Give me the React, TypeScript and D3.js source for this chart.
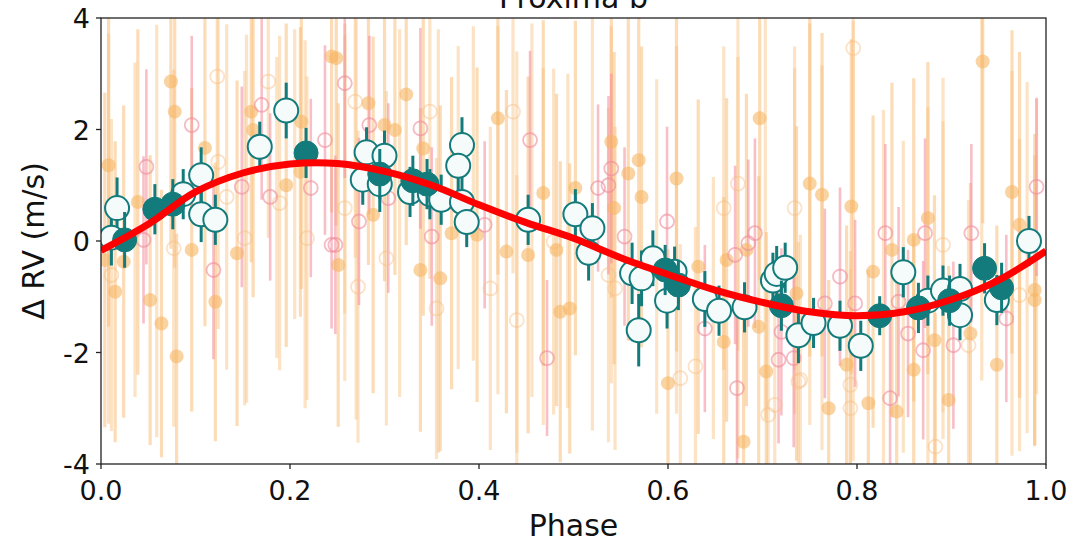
import React from 'react';
import * as d3 from 'd3';

const W = 1078;
const H = 543;

const titleText = 'Proxima b';
const xLabel = 'Phase';
const yLabel = 'Δ RV (m/s)';
const xTicks = [0, 0.2, 0.4, 0.6, 0.8, 1.0];
const yTicks = [-4, -2, 0, 2, 4];

// model curve (phase, rv)
const modelCurve: [number, number][] = [
  [0.0, -0.17], [0.05, 0.3], [0.1, 0.88], [0.15, 1.22], [0.2, 1.38], [0.25, 1.39],
  [0.3, 1.25], [0.35, 1.0], [0.4, 0.65], [0.45, 0.33], [0.5, 0.05], [0.55, -0.3],
  [0.6, -0.6], [0.65, -0.88], [0.7, -1.1], [0.75, -1.27], [0.8, -1.34], [0.85, -1.27],
  [0.9, -1.05], [0.95, -0.7], [1.0, -0.18],
];

// binned points, white fill (phase, rv, err)
const whitePts: [number, number, number][] = [
  [0.017, 0.59, 0.55], [0.011, 0.06, 0.5], [0.087, 0.84, 0.45], [0.106, 1.18, 0.5], [0.106, 0.48, 0.5],
  [0.121, 0.38, 0.45], [0.168, 1.69, 0.45], [0.196, 2.34, 0.5], [0.281, 1.59, 0.45], [0.3, 1.53, 0.45],
  [0.277, 1.1, 0.45], [0.295, 1.02, 0.5], [0.327, 0.88, 0.45], [0.348, 0.84, 0.45], [0.36, 0.74, 0.45],
  [0.382, 1.72, 0.5], [0.378, 1.35, 0.45], [0.382, 0.7, 0.45], [0.387, 0.34, 0.45], [0.452, 0.38, 0.45],
  [0.502, 0.48, 0.45], [0.52, 0.23, 0.45], [0.516, -0.21, 0.5], [0.562, -0.58, 0.55], [0.572, -0.67, 0.5],
  [0.584, -0.31, 0.5], [0.607, -0.55, 0.45], [0.599, -1.07, 0.5], [0.569, -1.6, 0.65], [0.639, -1.04, 0.5],
  [0.654, -1.25, 0.45], [0.681, -1.19, 0.45], [0.711, -0.71, 0.5], [0.715, -0.59, 0.5], [0.724, -0.48, 0.45],
  [0.738, -1.69, 0.5], [0.754, -1.47, 0.45], [0.782, -1.52, 0.45], [0.804, -1.88, 0.45], [0.849, -0.56, 0.45],
  [0.875, -1.07, 0.45], [0.891, -0.89, 0.45], [0.909, -0.86, 0.45], [0.909, -1.33, 0.45], [0.948, -1.06, 0.45],
  [0.982, 0.0, 0.45],
];

// binned points, teal fill (phase, rv, err)
const tealPts: [number, number, number][] = [
  [0.025, 0.02, 0.5], [0.057, 0.57, 0.45], [0.076, 0.66, 0.45], [0.217, 1.58, 0.45], [0.295, 1.2, 0.45],
  [0.33, 1.08, 0.45], [0.345, 1.02, 0.45], [0.597, -0.52, 0.45], [0.611, -0.79, 0.45], [0.72, -1.16, 0.45],
  [0.824, -1.34, 0.35], [0.865, -1.2, 0.45], [0.898, -1.07, 0.45], [0.935, -0.49, 0.45], [0.953, -0.84, 0.45],
];

// raw points, orange filled (phase, rv, err)
const orangeFilled: [number, number, number][] = [
  [0.074, 2.86, 3.0], [0.078, 2.32, 2.8], [0.008, 1.36, 2.9], [0.039, 0.7, 3.1], [0.11, 1.67, 3.2],
  [0.159, 2.32, 2.7], [0.161, 1.99, 3.0], [0.196, 1.0, 2.9], [0.211, 1.24, 2.6], [0.212, 2.14, 3.0],
  [0.004, -0.34, 3.0], [0.024, -0.37, 2.8], [0.015, -0.91, 2.7], [0.052, -1.06, 2.6], [0.064, -1.48, 2.4],
  [0.08, -2.07, 2.2], [0.096, -0.16, 2.9], [0.144, -0.22, 3.1], [0.121, -1.09, 2.5], [0.244, 3.31, 2.8],
  [0.249, 3.28, 3.0], [0.283, 2.47, 2.9], [0.323, 2.63, 2.7], [0.3, 2.08, 2.8], [0.311, 1.99, 2.6],
  [0.341, 1.66, 3.0], [0.42, 2.2, 2.8], [0.468, 0.86, 3.1], [0.251, -0.43, 2.9], [0.288, 0.47, 3.2],
  [0.338, -0.52, 2.9], [0.359, -0.67, 3.1], [0.371, 0.14, 2.8], [0.398, 0.11, 3.0], [0.429, -0.19, 2.9],
  [0.452, -0.25, 3.2], [0.482, -0.16, 2.8], [0.486, -1.27, 2.7], [0.697, 2.2, 2.9], [0.54, 1.78, 2.8],
  [0.569, 1.45, 2.9], [0.558, 1.21, 3.0], [0.572, 0.79, 2.7], [0.609, 1.12, 3.1], [0.543, 0.59, 2.8],
  [0.496, -1.21, 2.6], [0.632, -0.46, 3.0], [0.662, -0.34, 2.9], [0.696, -1.54, 2.7], [0.659, -1.81, 2.6],
  [0.704, -2.34, 2.5], [0.6, -2.55, 2.4], [0.68, -3.6, 2.6], [0.736, -0.94, 3.0], [0.502, 0.95, 3.0],
  [0.683, -0.16, 2.8], [0.933, 3.22, 2.9], [0.75, 1.03, 3.1], [0.763, 0.83, 2.9], [0.794, 0.62, 3.0],
  [0.875, 0.41, 2.8], [0.837, -0.16, 3.0], [0.86, 0.02, 2.9], [0.817, -0.55, 2.8], [0.964, 0.88, 2.9],
  [0.972, 0.29, 3.1], [0.988, -0.88, 2.8], [0.988, -1.06, 2.6], [0.789, -2.22, 2.5], [0.86, -2.31, 2.4],
  [0.882, -1.78, 2.6], [0.948, -2.22, 2.5], [0.77, -3.0, 2.3], [0.812, -2.91, 2.4], [0.842, -3.06, 2.5],
  [0.897, -2.85, 2.4], [0.92, -1.66, 2.7],
];

// raw points, pink open circles (phase, rv, err)
const pinkOpen: [number, number, number][] = [
  [0.048, 1.33, 1.75], [0.096, 2.08, 1.6], [0.045, 0.02, 1.5], [0.119, -0.52, 1.6], [0.149, 0.97, 1.8],
  [0.17, 2.44, 1.7], [0.179, 0.79, 1.5], [0.222, 0.95, 1.6], [0.237, 1.81, 1.7], [0.244, -0.07, 1.5],
  [0.258, 2.83, 1.7], [0.284, 2.08, 1.6], [0.338, 2.02, 1.8], [0.248, -0.07, 1.6], [0.273, 0.35, 1.5],
  [0.304, 0.77, 1.7], [0.35, 0.08, 1.6], [0.406, 0.29, 1.5], [0.472, -2.1, 1.4], [0.454, 1.81, 1.6],
  [0.54, 1.3, 1.7], [0.537, 1.0, 1.6], [0.526, 0.95, 1.5], [0.554, 0.08, 1.6], [0.599, 0.35, 1.7],
  [0.639, -1.57, 1.5], [0.673, -2.64, 1.4], [0.671, -0.25, 1.6], [0.685, -0.04, 1.5], [0.692, 0.14, 1.7],
  [0.717, -2.13, 1.5], [0.733, -2.1, 1.6], [0.72, -1.63, 1.5], [0.782, -0.64, 1.6], [0.766, -1.12, 1.7],
  [0.798, -1.12, 1.5], [0.83, 0.14, 1.6], [0.844, -1.09, 1.7], [0.854, -1.66, 1.5], [0.87, -1.96, 1.6],
  [0.902, -1.87, 1.5], [0.921, 0.14, 1.6], [0.958, -1.39, 1.5], [0.99, 0.97, 1.6], [0.835, -2.82, 1.5],
  [0.872, 0.14, 1.7],
];

// raw points, faint orange open circles (phase, rv, err)
const orangeOpen: [number, number, number][] = [
  [0.123, 2.95, 2.8], [0.124, 1.42, 3.0], [0.077, -0.13, 3.2], [0.218, 0.05, 2.9], [0.177, 2.86, 2.8],
  [0.189, 0.68, 3.0], [0.011, -0.61, 2.8], [0.133, 0.79, 3.1], [0.152, 0.05, 3.0], [0.269, 2.5, 2.8],
  [0.348, 2.32, 3.0], [0.436, 2.32, 2.9], [0.258, 0.59, 3.1], [0.302, -0.31, 3.0], [0.272, -0.82, 2.8],
  [0.355, -1.21, 2.7], [0.412, -0.85, 2.9], [0.44, -1.42, 2.6], [0.479, -0.01, 3.1], [0.659, 0.59, 2.9],
  [0.674, 1.03, 3.0], [0.734, 0.59, 2.9], [0.629, -2.25, 2.5], [0.613, -2.46, 2.4], [0.706, -3.12, 2.5],
  [0.713, -2.94, 2.6], [0.544, -0.85, 2.9], [0.537, -0.61, 3.0], [0.738, -2.52, 2.5], [0.796, 3.46, 2.9],
  [0.793, -2.58, 2.4], [0.793, -3.0, 2.5], [0.883, -3.69, 2.4], [0.918, -1.87, 2.6], [0.891, -0.07, 3.0],
  [0.972, -0.97, 2.8], [0.74, -2.49, 2.6],
];

// additional raw error bars whose markers are barely visible (phase, center, err)
const faintBars: [number, number, number][] = [
  [0.008, 0.22, 3.5], [0.036, 0.2, 3.0], [0.059, 0.18, 3.7], [0.154, 0.4, 3.3], [0.186, 0.6, 2.7],
  [0.205, 1.2, 2.6], [0.216, 0.3, 3.3], [0.258, 1.3, 2.6], [0.27, 0.4, 3.6], [0.316, 0.5, 3.3],
  [0.357, 0.0, 3.8], [0.378, 0.6, 2.9], [0.394, 0.85, 3.0], [0.42, 0.55, 3.3], [0.44, -0.2, 3.6],
  [0.456, 0.55, 3.35], [0.468, -0.1, 3.2], [0.494, 0.0, 3.0], [0.52, 0.3, 3.7], [0.54, 0.65, 3.2],
  [0.588, -0.1, 3.0], [0.609, 0.2, 3.3], [0.648, -1.2, 2.35], [0.674, -0.3, 3.6], [0.703, 0.4, 3.6],
  [0.734, 0.0, 3.1], [0.75, 0.3, 3.6], [0.763, -0.3, 3.45], [0.796, 0.0, 3.95], [0.828, -0.85, 3.2],
  [0.849, -1.0, 2.8], [0.875, -0.9, 3.3], [0.891, -0.7, 2.85], [0.932, 0.9, 3.4], [0.964, -0.4, 3.45],
  [0.98, -0.3, 3.15], [0.99, -0.1, 2.65],
];

const FONT = "'DejaVu Sans', sans-serif";

export default function App() {
  const x = d3.scaleLinear().domain([0, 1]).range([101, 1046]);
  const y = d3.scaleLinear().domain([-4, 4]).range([464, 18]);
  const [x0, x1] = x.range();
  const [yb, yt] = y.range();

  const line = d3
    .line<[number, number]>()
    .x((d) => x(d[0]))
    .y((d) => y(d[1]))
    .curve(d3.curveCatmullRom.alpha(0.5));

  const bar = (d: [number, number, number], key: string, color: string, width: number, opacity: number) => (
    <line
      key={key}
      x1={x(d[0])}
      x2={x(d[0])}
      y1={y(d[1] - d[2])}
      y2={y(d[1] + d[2])}
      stroke={color}
      strokeWidth={width}
      strokeOpacity={opacity}
    />
  );

  return (
    <svg width={W} height={H} style={{ position: 'absolute', left: 0, top: 0, background: '#fff' }}>
      <defs>
        <clipPath id="plotclip">
          <rect x={x0} y={yt} width={x1 - x0} height={yb - yt} />
        </clipPath>
      </defs>
      <rect x={0} y={0} width={W} height={H} fill="#fff" />
      <g clipPath="url(#plotclip)">
        {faintBars.map((d, i) => bar(d, 'fb' + i, '#f9c88c', 3.2, 0.5))}
        {orangeOpen.map((d, i) => bar(d, 'ob' + i, '#f9c88c', 3.2, 0.5))}
        {orangeFilled.map((d, i) => bar(d, 'fbar' + i, '#f8bf7c', 3.2, 0.55))}
        {pinkOpen.map((d, i) => bar(d, 'pb' + i, '#f28b9b', 2.6, 0.55))}
        {orangeOpen.map((d, i) => (
          <circle key={'oc' + i} cx={x(d[0])} cy={y(d[1])} r={7} fill="none" stroke="#f6bf86" strokeWidth={1.8} strokeOpacity={0.45} />
        ))}
        {orangeFilled.map((d, i) => (
          <circle key={'fc' + i} cx={x(d[0])} cy={y(d[1])} r={7} fill="#f7b564" fillOpacity={0.6} />
        ))}
        {pinkOpen.map((d, i) => (
          <circle key={'pc' + i} cx={x(d[0])} cy={y(d[1])} r={7} fill="none" stroke="#ee8c9b" strokeWidth={1.8} strokeOpacity={0.6} />
        ))}
        {whitePts.map((d, i) => bar(d, 'wb' + i, '#137b7b', 3, 1))}
        {whitePts.map((d, i) => (
          <circle key={'wc' + i} cx={x(d[0])} cy={y(d[1])} r={12} fill="#f5fbfb" stroke="#137b7b" strokeWidth={2} />
        ))}
        {tealPts.map((d, i) => bar(d, 'tb' + i, '#137b7b', 3, 1))}
        {tealPts.map((d, i) => (
          <circle key={'tc' + i} cx={x(d[0])} cy={y(d[1])} r={12} fill="#137b7b" stroke="#137b7b" strokeWidth={1} />
        ))}
        <path d={line(modelCurve) || ''} fill="none" stroke="#ff0000" strokeWidth={7} strokeLinecap="butt" />
      </g>
      <rect x={x0} y={yt} width={x1 - x0} height={yb - yt} fill="none" stroke="#222" strokeWidth={1.3} />
      {xTicks.map((t) => (
        <g key={'xt' + t}>
          <line x1={x(t)} x2={x(t)} y1={yb} y2={yb + 5} stroke="#222" strokeWidth={1.3} />
          <text x={x(t)} y={yb + 36} textAnchor="middle" fontFamily={FONT} fontSize={27} fill="#111">
            {t.toFixed(1)}
          </text>
        </g>
      ))}
      {yTicks.map((t) => (
        <g key={'yt' + t}>
          <line x1={x0 - 5} x2={x0} y1={y(t)} y2={y(t)} stroke="#222" strokeWidth={1.3} />
          <text x={x0 - 11} y={y(t) + 10} textAnchor="end" fontFamily={FONT} fontSize={27} fill="#111">
            {String(t)}
          </text>
        </g>
      ))}
      <text x={(x0 + x1) / 2} y={536} textAnchor="middle" fontFamily={FONT} fontSize={30} fill="#111">
        {xLabel}
      </text>
      <text
        transform={`translate(44, ${(yt + yb) / 2}) rotate(-90)`}
        textAnchor="middle"
        fontFamily={FONT}
        fontSize={30}
        fill="#111"
      >
        {yLabel}
      </text>
      <text x={(x0 + x1) / 2} y={8} textAnchor="middle" fontFamily={FONT} fontSize={30} fill="#111">
        {titleText}
      </text>
    </svg>
  );
}
